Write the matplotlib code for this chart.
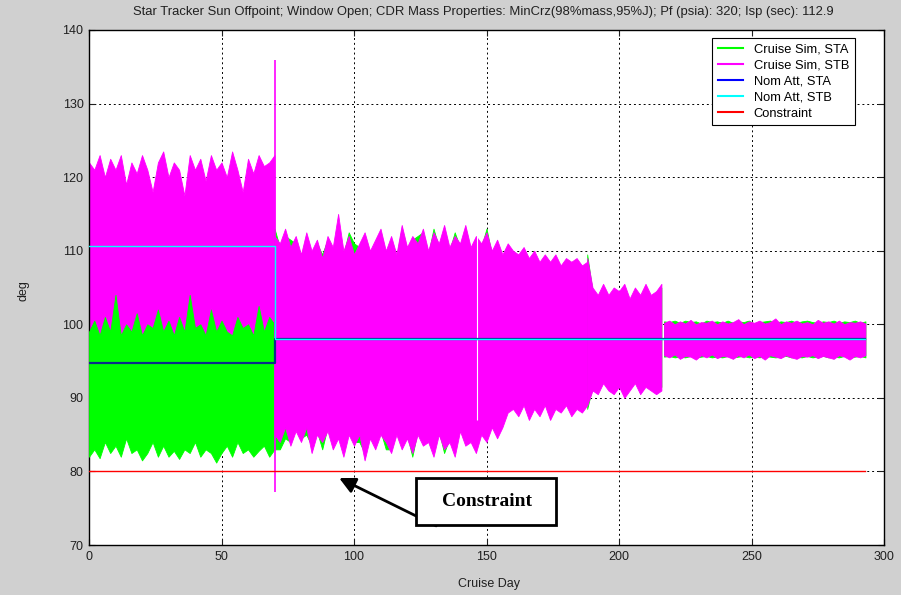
import numpy as np
import matplotlib.pyplot as plt
from matplotlib.lines import Line2D
from matplotlib.patches import Rectangle

plt.rcParams['font.family'] = ['Liberation Sans', 'DejaVu Sans']

# cruise phases (day ranges), envelopes sampled every 2 days
phase_starts = [0, 70, 188, 217]
phase_ends = [70, 188, 216, 293]

# phase 1: days 0-70
stb_hi_1 = [122, 121, 123, 120, 122.5, 121, 123, 119, 122, 120.5, 123, 121, 118, 122, 123.5, 120, 122, 121,
            117.5, 123, 121, 122.5, 119.5, 123, 121, 122, 120, 123.5, 121, 118, 122.5, 120.5, 123, 121.5, 122, 123]
stb_lo_1 = [97.5, 98, 97.5, 97, 98, 97.5, 98, 97, 97.5, 98, 97.5, 97, 98, 97.5, 97.5, 98, 97, 97.5,
            98, 97.5, 97, 98, 97.5, 97.5, 98, 97, 97.5, 98, 97.5, 97, 98, 97.5, 97.5, 98, 97.5, 97.5]
sta_hi_1 = [99, 100.5, 98.5, 101, 99, 104, 98.5, 100, 99, 101.5, 98.5, 100, 99.5, 102, 99, 100.5, 98.5, 101,
            99, 104, 99.5, 100, 98.5, 102, 99, 100.5, 99, 98.5, 101, 99.5, 100, 98.5, 102.5, 99, 101, 100]
sta_lo_1 = [82, 83, 81.8, 84, 82.5, 83.5, 82, 84.5, 82.5, 83, 81.5, 82.5, 84, 82, 83.5, 82, 82.8, 81.7,
            83, 82.5, 84, 82, 83, 82.5, 81.2, 82.5, 83.5, 82, 84, 82.5, 83, 82, 82.8, 83.5, 82, 83]

# phase 2: days 70-188
stb_hi_2 = [112, 111, 113, 110.5, 112, 109.5, 112.5, 110, 111.5, 109, 112, 110.5, 115, 110, 112, 109.5, 111, 112.5,
            110, 111.5, 113, 110, 112, 109.5, 113.5, 110.5, 112, 111, 113, 110, 112.5, 111, 113.5, 110.5, 112, 111,
            113.5, 110.5, 112, 111, 112.5, 110, 111.5, 109.5, 111, 110, 109.5, 110.5, 109, 110, 108.5, 109.5, 108.5,
            109.5, 108, 109, 108.5, 109, 108, 108.5]
sta_hi_2 = [113, 110.5, 112, 111.5, 111, 109, 112, 109.5, 111, 109.5, 111.5, 110, 113, 109.5, 112.5, 111, 110.5, 112,
            109.5, 111, 112.5, 109.5, 111.5, 109, 113, 110, 111.5, 112, 112.5, 109.5, 113, 110.5, 113, 110, 112.5, 110.5,
            113, 110, 111.5, 110.5, 113, 109.5, 111, 109, 110.5, 109.5, 109, 110, 108.5, 109.5, 108, 109, 108,
            109, 107.5, 108.5, 108, 108.5, 107.5, 108]
stb_lo_2 = [85, 84, 86, 83.5, 85.5, 84, 86, 82.5, 85, 84, 85.5, 83, 84.5, 82, 85, 83.5, 85, 81.5,
            84.5, 83, 85, 84, 82.5, 85, 83, 84.5, 82.5, 85, 83.5, 84, 82, 85, 83, 84, 82, 85.5,
            83.5, 84, 82.5, 85, 84, 86, 84.5, 86, 88, 88.5, 87.5, 89, 87, 88.5, 87.5, 89, 87,
            88.5, 88, 89, 87.5, 88.5, 88, 89]
sta_lo_2 = [83, 83, 84.5, 84, 86, 84.5, 85, 83.5, 85.5, 83, 86, 84, 85, 83, 85.5, 84, 84, 82.5,
            85, 83.5, 85.5, 83, 83, 85.5, 83.5, 85, 82, 85.5, 84, 84.5, 83, 85.5, 82.5, 84.5, 83, 86,
            84, 84.5, 83, 85.5, 84.5, 86.5, 85, 86.5, 88.5, 89, 88, 89.5, 87.5, 89, 88, 89.5, 87.5,
            89, 88.5, 89.5, 88, 89, 88.5, 89.5]

# phase 3: days 188-216
stb_hi_3 = [109, 105, 104, 105.5, 104, 105, 104.5, 105.5, 103.5, 105, 104, 105.5, 104, 104.5, 105.5]
sta_hi_3 = [109.5, 104.5, 103.5, 105, 103.5, 104.5, 104, 105, 103, 104.5, 103.5, 105, 103.5, 104, 105]
stb_lo_3 = [89, 91, 90.5, 92, 91, 90.5, 91.5, 90, 91, 92, 90.5, 91.5, 91, 90.5, 91]
sta_lo_3 = [88.5, 91.5, 91, 92.5, 91.5, 91, 92, 90.5, 91.5, 92.5, 91, 92, 91.5, 91, 91.5]

# phase 4: days 217-293
stb_hi_4 = [100.2, 100.5, 100, 100.4, 100.1, 100.6, 100, 100.3, 100.2, 100.5, 100, 100.4, 100.1, 100.3,
            100.7, 100, 100.4, 100.2, 100.5, 100.1, 100.3, 100.8, 100, 100.4, 100.2, 100.5, 100.1, 100.3,
            100, 100.6, 100.2, 100.4, 100.1, 100.5, 100, 100.3, 100.2, 100.4, 100.1]
sta_hi_4 = [100.4, 100.3, 100.5, 100.2, 100.5, 100.3, 100.4, 100.1, 100.5, 100.3, 100.4, 100.2, 100.5, 100.2,
            100.4, 100.3, 100.5, 100.1, 100.3, 100.4, 100.5, 100.2, 100.4, 100.3, 100.5, 100.2, 100.4, 100.5,
            100.3, 100.2, 100.4, 100.3, 100.5, 100.2, 100.4, 100.3, 100.5, 100.2, 100.4]
stb_lo_4 = [95.8, 95.5, 95.9, 95.3, 95.7, 95.6, 95.2, 95.8, 95.5, 95.9, 95.4, 95.7, 95.6, 95.3, 95.8, 95.5,
            95.9, 95.4, 95.7, 95.2, 95.8, 95.6, 95.4, 95.8, 95.5, 95.3, 95.7, 95.6, 95.8, 95.4, 95.7, 95.5,
            95.3, 95.8, 95.6, 95.2, 95.7, 95.5, 95.8]
sta_lo_4 = [95.6, 95.7, 95.5, 95.6, 95.5, 95.7, 95.5, 95.6, 95.7, 95.5, 95.6, 95.5, 95.7, 95.5, 95.6, 95.7,
            95.5, 95.6, 95.5, 95.7, 95.6, 95.5, 95.6, 95.7, 95.5, 95.6, 95.5, 95.7, 95.5, 95.6, 95.7, 95.5,
            95.6, 95.5, 95.7, 95.5, 95.6, 95.7, 95.5]

# single spike at the phase switch and data gap
spike_day, spike_lo, spike_hi = 70.3, 77.2, 135.9
gap_day, gap_lo, gap_hi = 146.3, 87.0, 113.5

# nominal attitude (step at day 70) and constraint
nom_days = [0, 70, 70, 293]
nom_sta = [94.7, 94.7, 98.0, 98.0]
nom_stb = [110.6, 110.6, 98.0, 98.0]
constraint_days = [0, 293]
constraint = [80, 80]

title = ('Star Tracker Sun Offpoint; Window Open; CDR Mass Properties: MinCrz(98%mass,95%J); '
         'Pf (psia): 320; Isp (sec): 112.9')

GREEN, MAGENTA, BLUE, CYAN, RED = '#00ff00', '#ff00ff', '#0000ff', '#00ffff', '#ff0000'

fig = plt.figure(figsize=(9.01, 5.95), dpi=100, facecolor='#d0d0d0')
ax = fig.add_axes([89 / 901, 50 / 595, 795 / 901, 515 / 595])

sta_hi = [sta_hi_1, sta_hi_2, sta_hi_3, sta_hi_4]
sta_lo = [sta_lo_1, sta_lo_2, sta_lo_3, sta_lo_4]
stb_hi = [stb_hi_1, stb_hi_2, stb_hi_3, stb_hi_4]
stb_lo = [stb_lo_1, stb_lo_2, stb_lo_3, stb_lo_4]

for i, (d0, d1) in enumerate(zip(phase_starts, phase_ends)):
    days = np.arange(d0, d1 + 1, 2)
    # first phase: STA drawn over STB, later phases the other way round
    z_sta, z_stb = (3, 2) if i == 0 else (2, 3)
    ax.fill_between(days, sta_lo[i], sta_hi[i], color=GREEN, lw=0.6, zorder=z_sta)
    ax.fill_between(days, stb_lo[i], stb_hi[i], color=MAGENTA, lw=0.6, zorder=z_stb)

ax.vlines(spike_day, spike_lo, spike_hi, color=MAGENTA, lw=1.2, zorder=4)
ax.vlines(gap_day, gap_lo, gap_hi, color='white', lw=0.8, zorder=4)

ax.plot(nom_days, nom_sta, color='#0a2f8a', lw=1.6, zorder=5)
ax.plot(nom_days, nom_stb, color=CYAN, lw=1.0, zorder=6)
ax.plot(constraint_days, constraint, color=RED, lw=1.0, zorder=6)

ax.set_xlim(0, 300)
ax.set_ylim(70, 140)
ax.set_xticks(range(0, 301, 50))
ax.set_yticks(range(70, 141, 10))
ax.grid(True, color='black', linestyle=(0, (2, 3)), lw=0.7)
ax.set_axisbelow(True)
ax.tick_params(direction='in', length=4, top=True, right=True, labelsize=9, pad=4, colors='#202020')
for s in ax.spines.values():
    s.set_linewidth(1.0)

fig.text(483 / 901, 1 - 12 / 595, title, ha='center', va='center', fontsize=9.4, color='#202020')
fig.text(489 / 901, 1 - 584 / 595, 'Cruise Day', ha='center', va='center', fontsize=9, color='#202020')
fig.text(23 / 901, 1 - 291 / 595, 'deg', ha='center', va='center', rotation=90, fontsize=9, color='#202020')

handles = [Line2D([], [], color=c) for c in (GREEN, MAGENTA, BLUE, CYAN, RED)]
labels = ['Cruise Sim, STA', 'Cruise Sim, STB', 'Nom Att, STA', 'Nom Att, STB', 'Constraint']
leg = ax.legend(handles, labels, loc='upper right', bbox_to_anchor=(0.9635, 0.9845), borderaxespad=0,
                fontsize=9.3, handlelength=2.0, labelspacing=0.3, fancybox=False, framealpha=1,
                edgecolor='black', borderpad=0.45, handletextpad=0.8)
leg.get_frame().set_linewidth(0.8)
leg.set_zorder(10)

# annotation box with arrow to the constraint line
ax.annotate('', xy=(94.4, 79.1), xytext=(131, 72.6),
            arrowprops=dict(arrowstyle='-|>', color='black', lw=2, mutation_scale=24, shrinkA=0, shrinkB=0),
            zorder=7)
ax.add_patch(Rectangle((123.4, 72.7), 52.8, 6.4, facecolor='white', edgecolor='black', lw=2, zorder=8))
ax.text(150.2, 75.9, 'Constraint', ha='center', va='center', fontsize=14, fontweight='bold',
        family='Liberation Serif', zorder=9)

fig.savefig('out.png', dpi=100, facecolor=fig.get_facecolor())
